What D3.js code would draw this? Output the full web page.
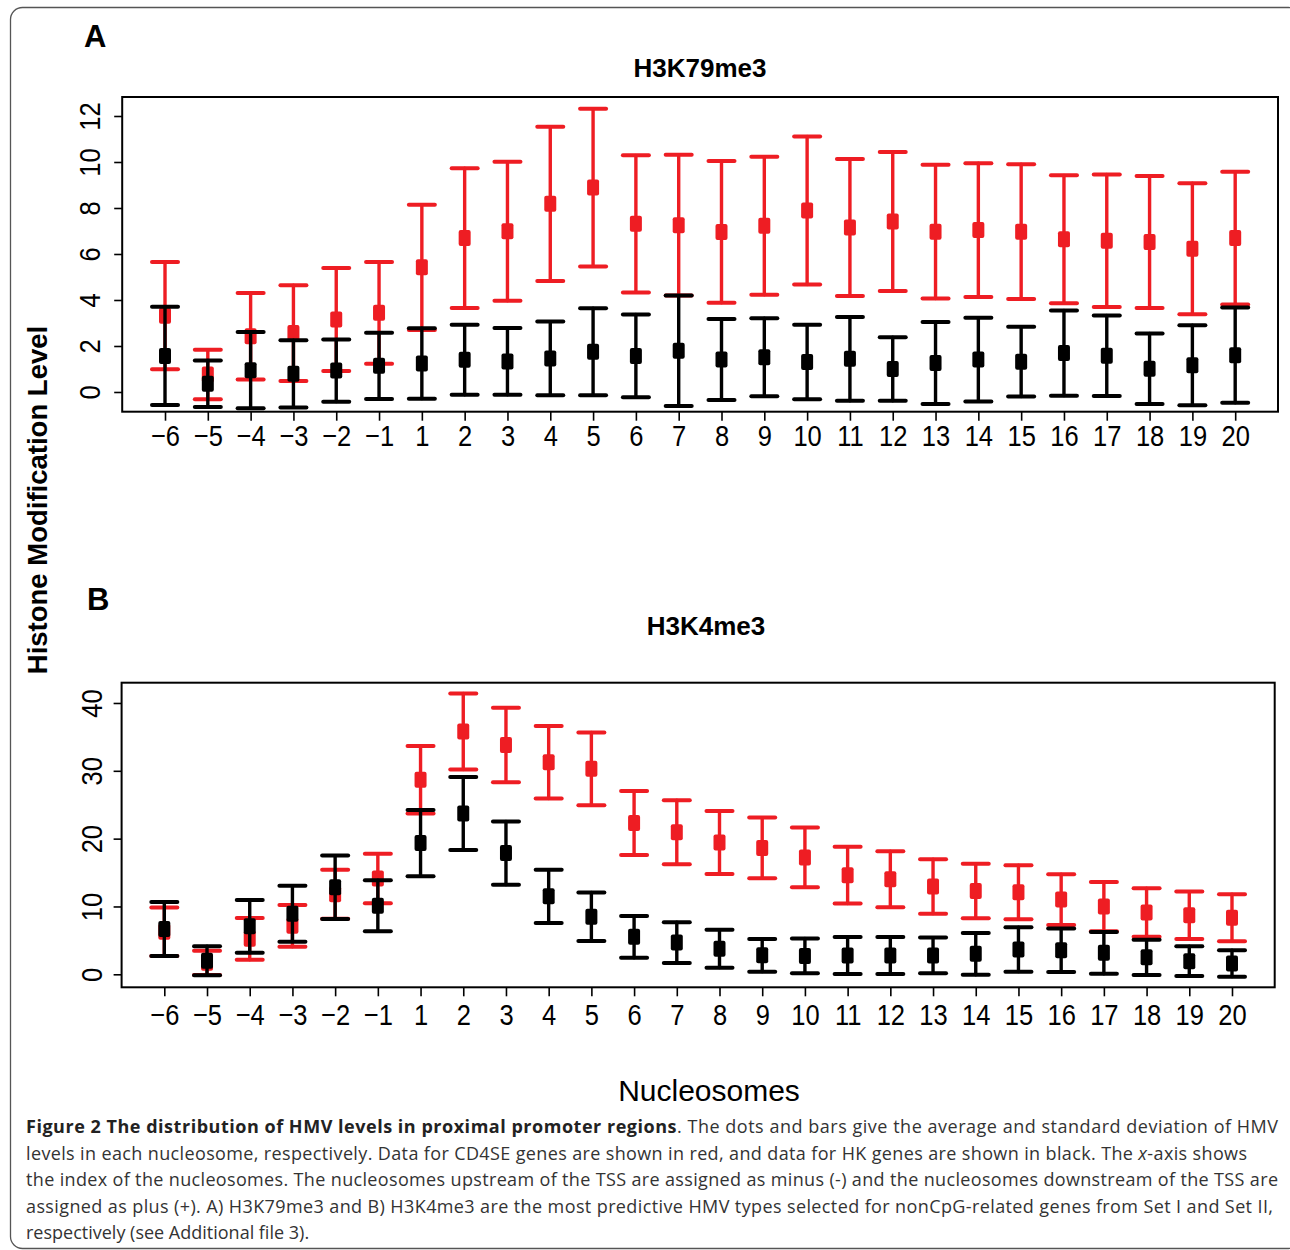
<!DOCTYPE html>
<html>
<head>
<meta charset="utf-8">
<script src="https://cdn.jsdelivr.net/npm/d3@7"></script>
<style>
  body { margin: 0; background: #fff; }
  svg { display: block; font-family: "Liberation Sans", Arial, sans-serif; }
</style>
</head>
<body>
<svg id="fig" width="1290" height="1250"></svg>
<script>
// nucleosome index, upstream (-) and downstream (+) of the TSS
var nucleosomes = [-6, -5, -4, -3, -2, -1, 1, 2, 3, 4, 5, 6, 7, 8, 9, 10, 11, 12, 13, 14, 15, 16, 17, 18, 19, 20];

// A) H3K79me3
var k79MeanCD4SE = [3.32, 0.76, 2.42, 2.56, 3.15, 3.44, 5.42, 6.69, 6.99, 8.18, 8.89, 7.31, 7.25,
                    6.96, 7.23, 7.89, 7.15, 7.41, 6.97, 7.04, 6.97, 6.64, 6.58, 6.52, 6.23, 6.69];
var k79SdCD4SE   = [2.33, 1.08, 1.88, 2.08, 2.24, 2.21, 2.72, 3.04, 3.02, 3.35, 3.43, 2.98, 3.06,
                    3.08, 3.00, 3.22, 2.98, 3.02, 2.91, 2.91, 2.93, 2.78, 2.88, 2.87, 2.85, 2.89];
var k79MeanHK    = [1.57, 0.36, 0.95, 0.79, 0.93, 1.14, 1.24, 1.40, 1.33, 1.46, 1.75, 1.57, 1.79,
                    1.41, 1.51, 1.30, 1.44, 1.00, 1.26, 1.41, 1.32, 1.69, 1.58, 1.01, 1.16, 1.60];
var k79SdHK      = [2.14, 1.01, 1.66, 1.46, 1.35, 1.44, 1.53, 1.52, 1.45, 1.60, 1.89, 1.80, 2.40,
                    1.76, 1.70, 1.62, 1.82, 1.38, 1.78, 1.82, 1.52, 1.85, 1.75, 1.53, 1.74, 2.07];

// B) H3K4me3
var k4MeanCD4SE  = [6.27, 1.69, 5.23, 7.15, 11.8, 14.13, 28.68, 35.79, 33.80, 31.26, 30.29, 22.32, 20.94,
                    19.44, 18.63, 17.23, 14.62, 14.01, 12.95, 12.27, 12.10, 11.01, 9.98, 9.12, 8.70, 8.34];
var k4SdCD4SE    = [3.57, 1.79, 3.08, 3.08, 3.6, 3.66, 4.99, 5.61, 5.48, 5.36, 5.36, 4.72, 4.72,
                    4.65, 4.47, 4.40, 4.20, 4.13, 4.01, 4.01, 3.99, 3.74, 3.64, 3.57, 3.49, 3.47];
var k4MeanHK     = [6.68, 1.99, 7.08, 8.94, 12.83, 10.10, 19.34, 23.70, 17.87, 11.50, 8.48, 5.53, 4.67,
                    3.78, 2.80, 2.71, 2.77, 2.77, 2.78, 3.02, 3.66, 3.54, 3.17, 2.50, 1.94, 1.60];
var k4SdHK       = [3.98, 2.14, 3.89, 4.13, 4.67, 3.76, 4.89, 5.37, 4.65, 3.93, 3.57, 3.08, 3.00,
                    2.80, 2.41, 2.56, 2.73, 2.73, 2.63, 3.08, 3.27, 3.20, 3.08, 2.60, 2.19, 1.95];

var k79Ticks = [0, 2, 4, 6, 8, 10, 12];
var k4Ticks = [0, 10, 20, 30, 40];

var RED = "#ee1d23";
var BLACK = "#000";

var svg = d3.select("#fig");

// outer frame of the figure (runs off the right edge)
svg.append("rect")
    .attr("x", 10.5).attr("y", 7.5)
    .attr("width", 1290).attr("height", 1241)
    .attr("rx", 12)
    .attr("fill", "none")
    .attr("stroke", "#555")
    .attr("stroke-width", 1.3);

function drawPanel(cfg) {
    var x = d3.scaleLinear().domain([0, 27]).range([cfg.left, cfg.right]);
    var y = d3.scaleLinear().domain(cfg.yDomain).range([cfg.bottom, cfg.top]);

    var g = svg.append("g");

    // panel letter and title
    g.append("text")
        .attr("x", cfg.letterX).attr("y", cfg.letterY)
        .attr("font-size", 31).attr("font-weight", "bold")
        .text(cfg.letter);
    g.append("text")
        .attr("x", cfg.titleX).attr("y", cfg.titleY)
        .attr("text-anchor", "middle")
        .attr("font-size", 26).attr("font-weight", "bold")
        .text(cfg.title);

    // R style axes; tick labels are a bit condensed in the original
    var yAxis = g.append("g")
        .attr("transform", "translate(" + cfg.left + ",0)")
        .call(d3.axisLeft(y).tickValues(cfg.ticks).tickSize(8));
    yAxis.select(".domain").remove();
    yAxis.selectAll("line").attr("stroke-width", 1.6);
    yAxis.selectAll("text")
        .attr("transform", "translate(" + cfg.yLabelOffset + ",0) rotate(-90) scale(0.85,1)")
        .attr("x", 0).attr("y", 0).attr("dy", 0)
        .attr("text-anchor", "middle")
        .attr("font-size", 30)
        .attr("font-family", "Liberation Sans, Arial, sans-serif")
        .attr("fill", "#000");

    var xAxis = g.append("g")
        .attr("transform", "translate(0," + cfg.bottom + ")")
        .call(d3.axisBottom(x)
            .tickValues(d3.range(1, 27))
            .tickSize(9)
            .tickFormat(function(i) {
                var n = nucleosomes[i - 1];
                return n < 0 ? "\u2212" + (-n) : String(n);
            }));
    xAxis.select(".domain").remove();
    xAxis.selectAll("line").attr("stroke-width", 1.6);
    xAxis.selectAll("text")
        .attr("transform", "translate(0," + cfg.xLabelOffset + ") scale(0.85,1)")
        .attr("y", 0).attr("dy", 0)
        .attr("font-size", 30)
        .attr("font-family", "Liberation Sans, Arial, sans-serif")
        .attr("fill", "#000");

    // plot box
    g.append("rect")
        .attr("x", cfg.left).attr("y", cfg.top)
        .attr("width", cfg.right - cfg.left)
        .attr("height", cfg.bottom - cfg.top)
        .attr("fill", "none")
        .attr("stroke", "#000")
        .attr("stroke-width", 2);

    // red first, black drawn over it
    drawSeries(g, x, y, cfg.meanRed, cfg.sdRed, RED);
    drawSeries(g, x, y, cfg.meanBlack, cfg.sdBlack, BLACK);
}

function drawSeries(g, x, y, means, sds, color) {
    var rows = means.map(function(m, i) {
        return { i: i + 1, m: m, lo: m - sds[i], hi: m + sds[i] };
    });
    var s = g.append("g")
        .attr("stroke", color)
        .attr("stroke-linecap", "round");

    s.selectAll(".stem").data(rows).enter().append("line")
        .attr("x1", function(d) { return x(d.i); })
        .attr("x2", function(d) { return x(d.i); })
        .attr("y1", function(d) { return y(d.lo); })
        .attr("y2", function(d) { return y(d.hi); })
        .attr("stroke-width", 3.4);

    ["lo", "hi"].forEach(function(k) {
        s.selectAll(".cap-" + k).data(rows).enter().append("line")
            .attr("x1", function(d) { return x(d.i) - 13; })
            .attr("x2", function(d) { return x(d.i) + 13; })
            .attr("y1", function(d) { return y(d[k]); })
            .attr("y2", function(d) { return y(d[k]); })
            .attr("stroke-width", 4);
    });

    g.append("g").selectAll("rect").data(rows).enter().append("rect")
        .attr("x", function(d) { return x(d.i) - 6; })
        .attr("y", function(d) { return y(d.m) - 8; })
        .attr("width", 12).attr("height", 16)
        .attr("rx", 2)
        .attr("fill", color);
}

drawPanel({
    letter: "A", letterX: 84, letterY: 47,
    title: "H3K79me3", titleX: 700, titleY: 77,
    left: 122.2, right: 1278, top: 97, bottom: 411.7,
    yDomain: [-0.857, 12.826], ticks: k79Ticks,
    yLabelOffset: -22, xLabelOffset: 34.3,
    meanRed: k79MeanCD4SE, sdRed: k79SdCD4SE,
    meanBlack: k79MeanHK, sdBlack: k79SdHK
});

drawPanel({
    letter: "B", letterX: 87, letterY: 610,
    title: "H3K4me3", titleX: 706, titleY: 635,
    left: 121.6, right: 1274.7, top: 682.7, bottom: 987.3,
    yDomain: [-1.917, 42.99], ticks: k4Ticks,
    yLabelOffset: -20, xLabelOffset: 38,
    meanRed: k4MeanCD4SE, sdRed: k4SdCD4SE,
    meanBlack: k4MeanHK, sdBlack: k4SdHK
});

// shared axis titles
svg.append("text")
    .attr("transform", "translate(47,500) rotate(-90)")
    .attr("text-anchor", "middle")
    .attr("font-size", 27.5).attr("font-weight", "bold")
    .text("Histone Modification Level");

svg.append("text")
    .attr("x", 709).attr("y", 1101)
    .attr("text-anchor", "middle")
    .attr("font-size", 30)
    .text("Nucleosomes");

// caption, one text per line so the justification can be matched
var captionLines = [
    [{ b: "Figure 2 The distribution of HMV levels in proximal promoter regions" },
     { t: ". The dots and bars give the average and standard deviation of HMV" }],
    [{ t: "levels in each nucleosome, respectively. Data for CD4SE genes are shown in red, and data for HK genes are shown in black. The " },
     { i: "x" }, { t: "-axis shows" }],
    [{ t: "the index of the nucleosomes. The nucleosomes upstream of the TSS are assigned as minus (-) and the nucleosomes downstream of the TSS are" }],
    [{ t: "assigned as plus (+). A) H3K79me3 and B) H3K4me3 are the most predictive HMV types selected for nonCpG-related genes from Set I and Set II," }],
    [{ t: "respectively (see Additional file 3)." }]
];
var captionWidths = [1252, 1221, 1252, 1247, null];

captionLines.forEach(function(parts, li) {
    var t = svg.append("text")
        .attr("x", 26)
        .attr("y", 1133 + li * 26.5)
        .attr("font-family", "Open Sans, sans-serif")
        .attr("font-size", 18)
        .attr("fill", "#333");
    if (captionWidths[li]) {
        t.attr("textLength", captionWidths[li]).attr("lengthAdjust", "spacing");
    }
    parts.forEach(function(p) {
        var span = t.append("tspan");
        if (p.b) span.attr("font-weight", "bold").attr("fill", "#222").text(p.b);
        else if (p.i) span.attr("font-style", "italic").text(p.i);
        else span.text(p.t);
    });
});
</script>
</body>
</html>
